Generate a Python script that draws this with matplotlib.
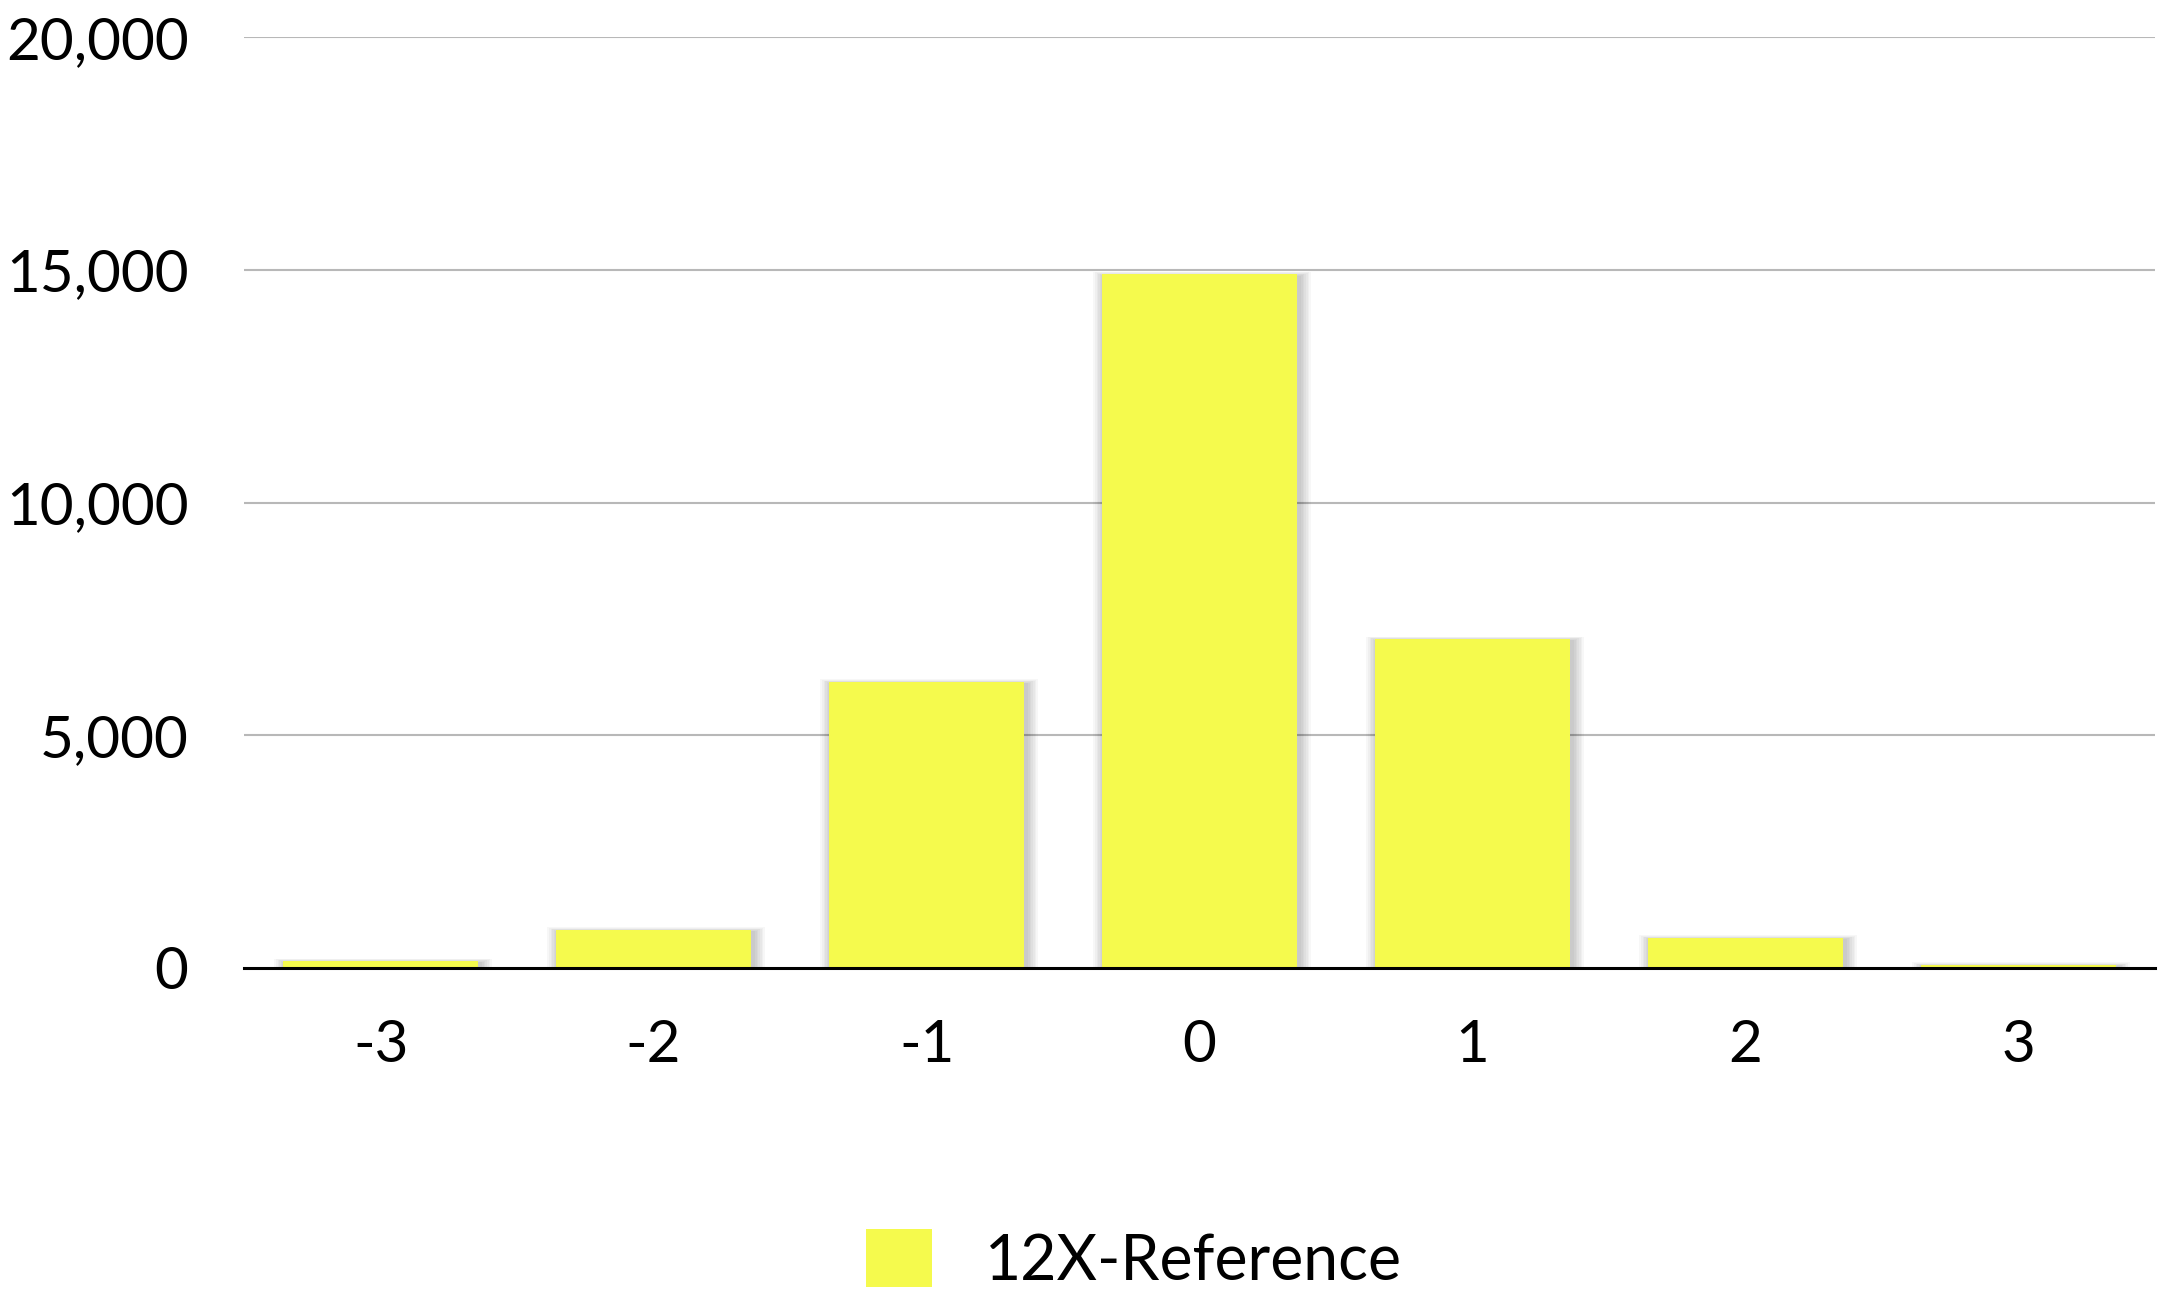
import matplotlib
matplotlib.use("Agg")
import matplotlib.pyplot as plt
from matplotlib.ticker import FuncFormatter
from matplotlib.patches import Patch

categories = ["-3", "-2", "-1", "0", "1", "2", "3"]
values = [150, 820, 6150, 14910, 7070, 650, 70]
series_name = "12X-Reference"
yticks = [0, 5000, 10000, 15000, 20000]

BAR_COLOR = "#f5fa4d"
plt.rcParams['font.family'] = ['Lato', 'DejaVu Sans']

fig = plt.figure(figsize=(21.6, 12.91), dpi=100)
ax = fig.add_axes([0.113, 0.2502, 0.8847, 0.7209])

x = list(range(len(categories)))
width = 0.714

# pixel-to-data conversions for the soft shadow
px_x = 1.0 / 273.0
px_y = 20000.0 / 930.7

for k in range(1, 8):
    grow = k * 1.6
    ax.bar([xi + 2.5 * px_x for xi in x],
           [v + (grow - 2) * px_y for v in values],
           width=width + 2 * grow * px_x,
           bottom=-grow * px_y * 0.6,
           color="black", alpha=0.032, linewidth=0, zorder=2)

ax.bar(x, values, width=width, color=BAR_COLOR, linewidth=0, zorder=3)

ax.set_xlim(-0.5, len(categories) - 0.5)
ax.set_ylim(0, 20000)
ax.set_yticks(yticks)
ax.yaxis.set_major_formatter(FuncFormatter(lambda v, p: f"{int(v):,}"))
ax.set_xticks(x)
ax.set_xticklabels(categories)

for yv in yticks[1:]:
    ax.axhline(yv, color="#b8b8b8", linewidth=1.5, zorder=1)
ax.axhline(0, color="black", linewidth=2.2, zorder=4, clip_on=False)

for s in ax.spines.values():
    s.set_visible(False)
ax.tick_params(axis="both", length=0, labelsize=42, colors="black")
ax.tick_params(axis="y", pad=40)
ax.tick_params(axis="x", pad=37)

handles = [Patch(facecolor=BAR_COLOR, edgecolor="none", label=series_name)]
fig.legend(handles=handles, loc="center", bbox_to_anchor=(0.525, 0.024),
           frameon=False, fontsize=45, handlelength=1.05, handleheight=1.05,
           handletextpad=0.85, borderpad=0, borderaxespad=0)

fig.savefig("out.png", dpi=100, facecolor="white")
